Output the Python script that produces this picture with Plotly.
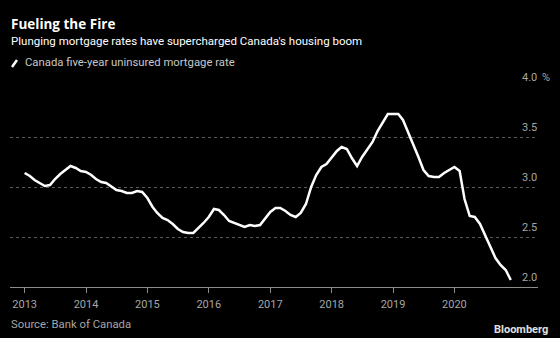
import plotly.graph_objects as go
import pandas as pd

# Monthly Canada five-year uninsured mortgage rate, Jan 2013 - Dec 2020 (%)
rates = [
    3.14, 3.11, 3.07, 3.04, 3.01, 3.02, 3.08, 3.13, 3.17, 3.21, 3.19, 3.16,  # 2013
    3.15, 3.12, 3.08, 3.05, 3.04, 3.00, 2.97, 2.96, 2.94, 2.94, 2.96, 2.95,  # 2014
    2.89, 2.80, 2.74, 2.69, 2.67, 2.63, 2.58, 2.55, 2.54, 2.54, 2.59, 2.64,  # 2015
    2.70, 2.78, 2.77, 2.72, 2.66, 2.64, 2.62, 2.60, 2.62, 2.61, 2.62, 2.68,  # 2016
    2.75, 2.79, 2.79, 2.76, 2.72, 2.70, 2.74, 2.83, 3.00, 3.12, 3.20, 3.23,  # 2017
    3.29, 3.36, 3.40, 3.38, 3.29, 3.21, 3.30, 3.38, 3.45, 3.56, 3.65, 3.73,  # 2018
    3.73, 3.73, 3.67, 3.55, 3.43, 3.30, 3.17, 3.11, 3.10, 3.10, 3.14, 3.17,  # 2019
    3.20, 3.16, 2.88, 2.71, 2.70, 2.63, 2.52, 2.39, 2.29, 2.22, 2.17, 2.07,  # 2020
]
dates = pd.date_range("2013-01-01", periods=len(rates), freq="MS")

x_tick_years = [2013, 2014, 2015, 2016, 2017, 2018, 2019, 2020]
y_ticks = [2.0, 2.5, 3.0, 3.5, 4.0]
y_tick_labels = ["2.0", "2.5", "3.0", "3.5", "4.0"]

title = "Fueling the Fire"
subtitle = "Plunging mortgage rates have supercharged Canada's housing boom"
series_name = "Canada five-year uninsured mortgage rate"
source = "Source: Bank of Canada"

FONT = "Roboto, Liberation Sans, sans-serif"
TITLE_FONT = "Open Sans, Roboto, sans-serif"
GRAY = "#a6a6a6"

W, H = 560, 338
L, R, T, B = 10, 22, 87, 51
pw, ph = W - L - R, H - T - B


def px(x):
    return (x - L) / pw


def py(y):
    return (H - B - y) / ph


fig = go.Figure()
fig.add_trace(go.Scatter(
    x=dates, y=rates, mode="lines", name=series_name,
    line=dict(color="white", width=2.5), showlegend=False,
    hovertemplate="%{x|%b %Y}: %{y:.2f}%<extra></extra>",
))

annotations = []
for v, lab in zip(y_ticks, y_tick_labels):
    annotations.append(dict(
        x=1.002, xref="paper", y=v, yref="y", text=lab, showarrow=False,
        xanchor="right", yanchor="bottom", yshift=1,
        font=dict(family=FONT, size=11, color=GRAY),
    ))
annotations.append(dict(
    x=1.003, xref="paper", y=4.0, yref="y", text="%", showarrow=False,
    xanchor="left", yanchor="bottom", yshift=1,
    font=dict(family=FONT, size=11, color=GRAY),
))
annotations += [
    dict(x=px(9), y=py(24), xref="paper", yref="paper", text="<b>" + title + "</b>",
         showarrow=False, xanchor="left", yanchor="middle",
         font=dict(family=TITLE_FONT, size=13.5, color="white")),
    dict(x=px(9), y=py(41), xref="paper", yref="paper", text=subtitle,
         showarrow=False, xanchor="left", yanchor="middle",
         font=dict(family=FONT, size=11.5, color="white")),
    dict(x=px(23), y=py(63), xref="paper", yref="paper", text=series_name,
         showarrow=False, xanchor="left", yanchor="middle",
         font=dict(family=FONT, size=11.3, color="#c8c8c8")),
    dict(x=px(9), y=py(324), xref="paper", yref="paper", text=source,
         showarrow=False, xanchor="left", yanchor="middle",
         font=dict(family=FONT, size=11.3, color=GRAY)),
    dict(x=px(550), y=py(329), xref="paper", yref="paper", text="<b>Bloomberg</b>",
         showarrow=False, xanchor="right", yanchor="middle",
         font=dict(family=FONT, size=11, color="#e0e0e0")),
]

shapes = [dict(type="line", xref="paper", yref="paper",
               x0=px(12), y0=py(67), x1=px(17), y1=py(60),
               line=dict(color="white", width=2.5))]

fig.update_layout(
    width=W, height=H,
    margin=dict(l=L, r=R, t=T, b=B),
    paper_bgcolor="black", plot_bgcolor="black",
    annotations=annotations, shapes=shapes,
    xaxis=dict(
        type="date", range=["2012-10-06", "2021-05-12"],
        tickvals=[f"{y}-01-01" for y in x_tick_years],
        ticktext=[str(y) for y in x_tick_years],
        ticks="outside", ticklen=5, tickcolor="#8c8c8c", tickwidth=1,
        showgrid=False, showline=True, linecolor="#8c8c8c", linewidth=1,
        zeroline=False, ticklabelstandoff=2,
        tickfont=dict(family=FONT, size=11, color=GRAY),
    ),
    yaxis=dict(
        range=[2.0, 4.0], tickvals=y_ticks, showticklabels=False,
        showgrid=True, gridcolor="#5a5a5a", griddash="dot", gridwidth=1,
        zeroline=False, showline=False,
    ),
)

fig.write_html("out.html")
